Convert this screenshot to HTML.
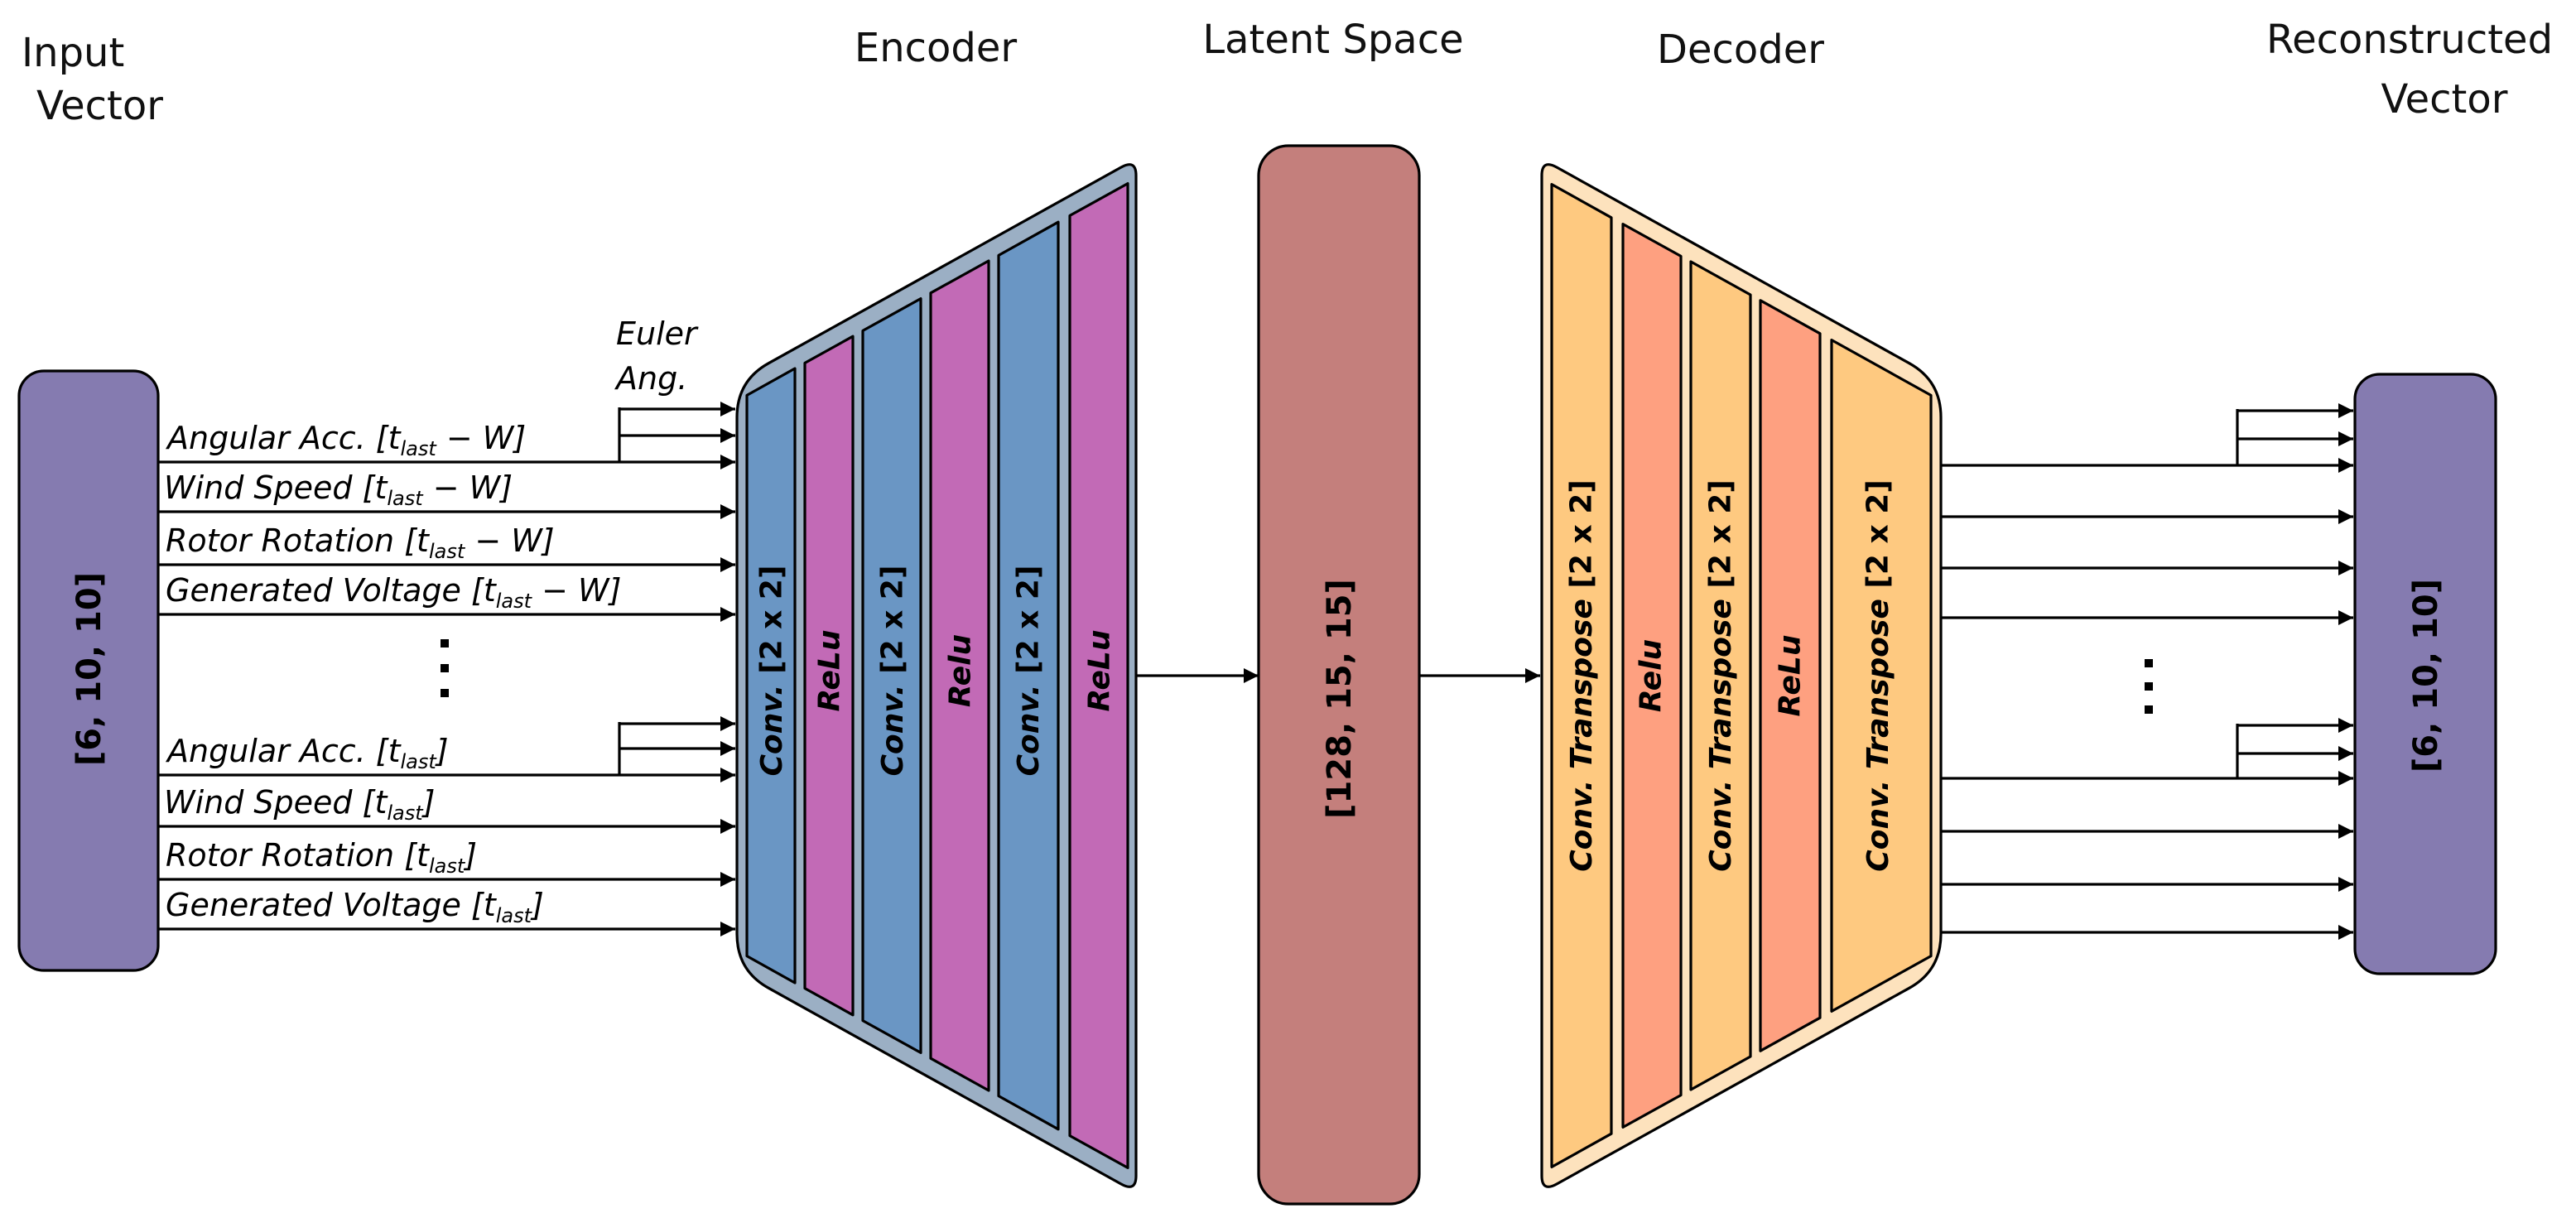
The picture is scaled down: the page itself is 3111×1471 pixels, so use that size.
<!DOCTYPE html>
<html><head><meta charset="utf-8"><style>html,body{margin:0;padding:0;background:#fff}svg{display:block}</style></head>
<body>
<svg xmlns="http://www.w3.org/2000/svg" width="3111" height="1471" viewBox="0 0 1555.5 735.5" font-family="'DejaVu Sans','Liberation Sans',sans-serif">
<defs>
<marker id="a" viewBox="0 0 10 10" refX="10" refY="5" markerWidth="10" markerHeight="9" markerUnits="userSpaceOnUse" orient="auto"><path d="M0,0 L10,5 L0,10 Z" fill="#000"/></marker>
</defs>
<rect width="1555.5" height="735.5" fill="#fff"/>
<!-- headers -->
<g font-size="24" fill="#111">
<text x="13" y="40">Input</text>
<text x="22" y="72">Vector</text>
<text x="565" y="37" text-anchor="middle">Encoder</text>
<text x="805" y="32" text-anchor="middle">Latent Space</text>
<text x="1051" y="38" text-anchor="middle">Decoder</text>
<text x="1455" y="32" text-anchor="middle">Reconstructed</text>
<text x="1476" y="68" text-anchor="middle">Vector</text>
</g>
<!-- input box -->
<rect x="11.5" y="224" width="84" height="362" rx="15" fill="#857bb0" stroke="#000" stroke-width="1.6"/>
<text transform="translate(54,404) rotate(-90)" text-anchor="middle" dominant-baseline="central" font-weight="bold" font-size="20">[6, 10, 10]</text>
<!-- input lines -->
<g stroke="#000" stroke-width="1.6" fill="none" marker-end="url(#a)">
<line x1="96" y1="279" x2="444" y2="279"/>
<line x1="96" y1="309" x2="444" y2="309"/>
<line x1="96" y1="341" x2="444" y2="341"/>
<line x1="96" y1="371" x2="444" y2="371"/>
<line x1="96" y1="468" x2="444" y2="468"/>
<line x1="96" y1="499" x2="444" y2="499"/>
<line x1="96" y1="531" x2="444" y2="531"/>
<line x1="96" y1="561" x2="444" y2="561"/>
<line x1="374" y1="247" x2="444" y2="247"/>
<line x1="374" y1="263" x2="444" y2="263"/>
<line x1="374" y1="437" x2="444" y2="437"/>
<line x1="374" y1="452" x2="444" y2="452"/>
</g>
<g stroke="#000" stroke-width="1.6">
<line x1="374" y1="246" x2="374" y2="279"/>
<line x1="374" y1="436" x2="374" y2="468"/>
</g>
<g font-size="19" font-style="italic" fill="#000">
<text x="372" y="208">Euler</text>
<text x="372" y="235">Ang.</text>
<text x="101" y="271">Angular Acc. [t<tspan font-size="12" dy="4">last</tspan><tspan dy="-4"> − W]</tspan></text>
<text x="99" y="301">Wind Speed [t<tspan font-size="12" dy="4">last</tspan><tspan dy="-4"> − W]</tspan></text>
<text x="100" y="333">Rotor Rotation [t<tspan font-size="12" dy="4">last</tspan><tspan dy="-4"> − W]</tspan></text>
<text x="100" y="363">Generated Voltage [t<tspan font-size="12" dy="4">last</tspan><tspan dy="-4"> − W]</tspan></text>
<text x="101" y="460">Angular Acc. [t<tspan font-size="12" dy="4">last</tspan><tspan dy="-4">]</tspan></text>
<text x="99" y="491">Wind Speed [t<tspan font-size="12" dy="4">last</tspan><tspan dy="-4">]</tspan></text>
<text x="100" y="523">Rotor Rotation [t<tspan font-size="12" dy="4">last</tspan><tspan dy="-4">]</tspan></text>
<text x="100" y="553">Generated Voltage [t<tspan font-size="12" dy="4">last</tspan><tspan dy="-4">]</tspan></text>
</g>
<g fill="#000">
<rect x="266" y="386" width="5" height="5"/><rect x="266" y="401" width="5" height="5"/><rect x="266" y="416" width="5" height="5"/>
<rect x="1295" y="398" width="5" height="5"/><rect x="1295" y="412" width="5" height="5"/><rect x="1295" y="426" width="5" height="5"/>
</g>
<!-- encoder -->
<path d="M445,252 Q445,230 464,219.4 L677,101 Q686,96 686,106 L686,710 Q686,720 677,715 L464,596.6 Q445,586 445,564 Z" fill="#9bafc4" stroke="#000" stroke-width="1.6"/>
<g stroke="#000" stroke-width="1.6" stroke-linejoin="round">
<polygon points="451,238.7 480,222.5 480,593.5 451,577.3" fill="#6a96c4"/>
<polygon points="486,219.2 515,203.1 515,612.9 486,596.8" fill="#c26ab6"/>
<polygon points="521,199.7 556,180.3 556,635.7 521,616.3" fill="#6a96c4"/>
<polygon points="562,176.9 597,157.5 597,658.5 562,639.1" fill="#c26ab6"/>
<polygon points="603,154.2 639,134.1 639,681.9 603,661.8" fill="#6a96c4"/>
<polygon points="646,130.2 681,110.8 681,705.2 646,685.8" fill="#c26ab6"/>
</g>
<g font-weight="bold" font-size="18" fill="#000" text-anchor="middle" dominant-baseline="central">
<text transform="translate(466,405) rotate(-90)"><tspan font-style="italic">Conv.</tspan> [2 x 2]</text>
<text transform="translate(501,405) rotate(-90)" font-style="italic">ReLu</text>
<text transform="translate(539,405) rotate(-90)"><tspan font-style="italic">Conv.</tspan> [2 x 2]</text>
<text transform="translate(580,405) rotate(-90)" font-style="italic">Relu</text>
<text transform="translate(621,405) rotate(-90)"><tspan font-style="italic">Conv.</tspan> [2 x 2]</text>
<text transform="translate(664,405) rotate(-90)" font-style="italic">ReLu</text>
</g>
<!-- latent -->
<g stroke="#000" stroke-width="1.6" marker-end="url(#a)">
<line x1="686" y1="408" x2="760" y2="408"/>
<line x1="857" y1="408" x2="930" y2="408"/>
</g>
<rect x="760" y="88" width="97" height="639" rx="18" fill="#c47f7c" stroke="#000" stroke-width="1.6"/>
<text transform="translate(809,422) rotate(-90)" text-anchor="middle" dominant-baseline="central" font-weight="bold" font-size="20">[128, 15, 15]</text>
<!-- decoder -->
<path d="M931,106 Q931,96 940,101 L1153,219.4 Q1172,230 1172,252 L1172,564 Q1172,586 1153,596.6 L940,715 Q931,720 931,710 Z" fill="#fde2bd" stroke="#000" stroke-width="1.6"/>
<g stroke="#000" stroke-width="1.6" stroke-linejoin="round">
<polygon points="937,111.3 973,131.4 973,684.6 937,704.7" fill="#fec980"/>
<polygon points="980,135.3 1015,154.7 1015,661.3 980,680.7" fill="#fea080"/>
<polygon points="1021,158 1057,178 1057,638 1021,658" fill="#fec980"/>
<polygon points="1063,181.4 1099,201.4 1099,614.6 1063,634.6" fill="#fea080"/>
<polygon points="1106,205.3 1166,238.7 1166,577.3 1106,610.7" fill="#fec980"/>
</g>
<g font-weight="bold" font-size="18" fill="#000" text-anchor="middle" dominant-baseline="central">
<text transform="translate(955,408) rotate(-90)"><tspan font-style="italic">Conv. Transpose</tspan> [2 x 2]</text>
<text transform="translate(997,408) rotate(-90)" font-style="italic">Relu</text>
<text transform="translate(1039,408) rotate(-90)"><tspan font-style="italic">Conv. Transpose</tspan> [2 x 2]</text>
<text transform="translate(1081,408) rotate(-90)" font-style="italic">ReLu</text>
<text transform="translate(1134,408) rotate(-90)"><tspan font-style="italic">Conv. Transpose</tspan> [2 x 2]</text>
</g>
<!-- output lines -->
<g stroke="#000" stroke-width="1.6" fill="none" marker-end="url(#a)">
<line x1="1172" y1="281" x2="1421" y2="281"/>
<line x1="1172" y1="312" x2="1421" y2="312"/>
<line x1="1172" y1="343" x2="1421" y2="343"/>
<line x1="1172" y1="373" x2="1421" y2="373"/>
<line x1="1172" y1="470" x2="1421" y2="470"/>
<line x1="1172" y1="502" x2="1421" y2="502"/>
<line x1="1172" y1="534" x2="1421" y2="534"/>
<line x1="1172" y1="563" x2="1421" y2="563"/>
<line x1="1351" y1="248" x2="1421" y2="248"/>
<line x1="1351" y1="265" x2="1421" y2="265"/>
<line x1="1351" y1="438" x2="1421" y2="438"/>
<line x1="1351" y1="455" x2="1421" y2="455"/>
</g>
<g stroke="#000" stroke-width="1.6">
<line x1="1351" y1="247" x2="1351" y2="281"/>
<line x1="1351" y1="437" x2="1351" y2="470"/>
</g>
<rect x="1422" y="226" width="85" height="362" rx="15" fill="#857bb0" stroke="#000" stroke-width="1.6"/>
<text transform="translate(1465,408) rotate(-90)" text-anchor="middle" dominant-baseline="central" font-weight="bold" font-size="20">[6, 10, 10]</text>
</svg>
</body></html>
